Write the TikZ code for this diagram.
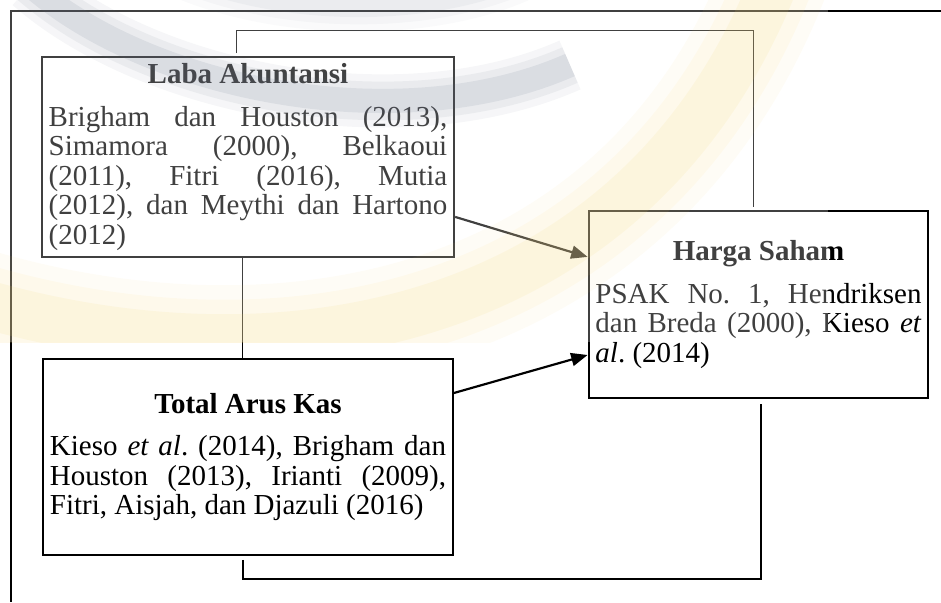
\documentclass[tikz,border=0pt]{standalone}
\usepackage{fontspec}
\setmainfont{Liberation Serif}
\usetikzlibrary{arrows.meta}
\definecolor{kuning}{RGB}{246,212,110}
\definecolor{abu}{RGB}{95,105,130}
\frenchspacing
\tolerance=9999
\hyphenpenalty=10000
\newcommand{\judul}[1]{{\centering\bfseries #1\par}\vspace{5.5pt}}

\begin{document}
\begin{tikzpicture}[x=0.414pt,y=-0.414pt,
    every node/.style={font=\fontsize{12}{12.2}\selectfont},
    kotak/.style={draw,line width=.9pt,align=justify,inner xsep=2.8pt,inner ysep=0pt},
    garis/.style={line width=.45pt,shorten <=1.2pt,shorten >=1.2pt},
    panah/.style={-{Triangle[length=6.8pt,width=5.4pt]},line width=.9pt}]
    \useasboundingbox (0,0) rectangle (941,602);
    \draw[line width=1pt] (941,11) -- (11,11) -- (11,602);
    \node[kotak,text width=165pt,minimum height=82.8pt] (laba) at (248,157)
        {\judul{Laba Akuntansi}Brigham dan Houston (2013),\linebreak
        Simamora (2000), Belkaoui\linebreak (2011), Fitri (2016), Mutia\linebreak
        (2012), dan Meythi dan Hartono\linebreak (2012)};
    \node[kotak,text width=135pt,minimum height=77.4pt] (harga) at (758.5,304.5)
        {\judul{Harga Saham}PSAK No.\ 1, Hendriksen\linebreak
        dan Breda (2000), Kieso \textit{et}\linebreak \textit{al}. (2014)};
    \node[kotak,text width=164pt,minimum height=81.1pt] (arus) at (248,457)
        {\judul{Total Arus Kas}Kieso \textit{et al}. (2014), Brigham dan\linebreak
        Houston (2013), Irianti (2009),\linebreak Fitri, Aisjah, dan Djazuli (2016)};
    \draw[garis] ([xshift=-4.6pt]laba.north) -- ++(0,-25) -| ([xshift=-1.9pt]harga.north);
    \draw[garis,shorten <=0pt,shorten >=0pt] ([xshift=-2.1pt]laba.south) -- ([xshift=-2.1pt]arus.north);
    \draw[garis,line width=.6pt,shorten <=1.6pt,shorten >=2pt] ([xshift=-2.1pt]arus.south) -- ++(0,23) -| ([xshift=1pt]harga.south);
    \draw[panah] ([yshift=-24.8pt]laba.east) -- ([yshift=19.7pt]harga.west);
    \draw[panah] ([yshift=26.5pt]arus.east) -- ([yshift=-20.9pt]harga.west);
    % Marca de agua (logo) sobre la parte superior.
    \begin{scope}
        \clip (0,0) rectangle (828,342);
        \fill[white,opacity=.25] (0,0) rectangle (828,342);
        \foreach \w/\o in {44pt/.06,32pt/.08,20pt/.11} {
            \draw[kuning,line width=\w,opacity=\o] (-60,290) .. controls (250,395) and (630,345) .. (775,-20);
            \draw[abu,line width=.5*\w,opacity=\o] (30,-15) .. controls (150,90) and (400,140) .. (570,65);
            \draw[abu,line width=.5*\w,opacity=.5*\o] (190,-25) .. controls (290,15) and (430,15) .. (520,-25);
        }
    \end{scope}
\end{tikzpicture}
\end{document}
